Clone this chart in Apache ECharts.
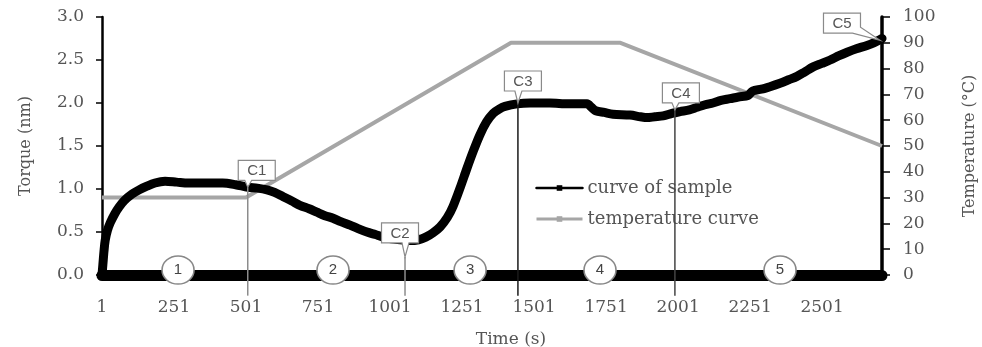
<!DOCTYPE html>
<html><head><meta charset="utf-8">
<script src="https://cdn.jsdelivr.net/npm/echarts@6/dist/echarts.min.js"></script>
<style>html,body{margin:0;padding:0;background:#fff;overflow:hidden;width:100%;height:100%}#c{width:100vw;height:100vh}</style>
</head><body><div id="c"></div><script>
// ---- data ----
const timeSample = [1,4,8,12,20,30,45,60,80,105,130,155,185,220,260,300,350,420,465,508,540,574,600,630,660,688,720,747,775,803,830,862,890,921,950,977,1005,1036,1070,1100,1125,1150,1175,1200,1220,1245,1268,1290,1313,1336,1359,1380,1400,1442,1487,1556,1620,1661,1685,1700,1715,1745,1775,1834,1870,1893,1920,1949,1980,2008,2040,2067,2095,2122,2150,2181,2210,2245,2260,2290,2320,2355,2385,2414,2440,2470,2500,2529,2560,2588,2620,2657,2680,2709];
const torqueSample = [0,0.12,0.28,0.40,0.52,0.61,0.71,0.79,0.87,0.94,0.99,1.03,1.07,1.09,1.08,1.07,1.07,1.07,1.05,1.02,1.01,0.99,0.96,0.91,0.86,0.81,0.77,0.73,0.69,0.66,0.62,0.58,0.54,0.50,0.47,0.44,0.42,0.41,0.40,0.41,0.44,0.49,0.56,0.67,0.80,1.02,1.24,1.44,1.63,1.78,1.88,1.93,1.96,1.99,2.00,2.00,1.99,1.99,1.99,1.95,1.91,1.89,1.87,1.86,1.84,1.83,1.84,1.85,1.88,1.90,1.92,1.95,1.98,2.00,2.03,2.05,2.07,2.09,2.14,2.16,2.19,2.23,2.27,2.31,2.36,2.42,2.46,2.50,2.55,2.59,2.63,2.67,2.70,2.75];
const timeTemp = [1,501,1421,1801,2709];
const tempValues = [30,30,90,90,50];
const calloutLabels = ['C1','C2','C3','C4','C5'];
const calloutTime = [507,1053,1445,1990,2702];
const calloutTorque = [1.02,0.21,2.0,1.92,2.73];
const stageLabels = ['1','2','3','4','5'];
const stageTime = [265,803,1279,1730,2355];
const seriesNames = ['curve of sample','temperature curve'];
const xTickStep = 250;

// ---- styles (not data) ----
const calloutStyle = {
  C1:{dx:9,dy:-17,line:'#8c8c8c'},
  C2:{dx:-5,dy:-24,line:'#8c8c8c'},
  C3:{dx:5,dy:-22,line:'#1a1a1a'},
  C4:{dx:6,dy:-17,line:'#444'},
  C5:{dx:-38,dy:-17,line:null,side:true}
};
const serif = 'DejaVu Serif';
const lineBottom = -0.24;

const sampleData = timeSample.map((t,i)=>[t-1, torqueSample[i]]);
const tempData = timeTemp.map((t,i)=>[t-1, tempValues[i]]);
const calloutData = calloutTime.map((t,i)=>[t-1, calloutTorque[i]]);
const stageData = stageTime.map(t=>[t-1, 0]);

const chart = echarts.init(document.getElementById('c'), null, {renderer:'canvas'});
chart.setOption({
  animation:false,
  backgroundColor:'#fff',
  grid:{left:102,right:100,top:17,bottom:72,containLabel:false,outerBoundsMode:'none'},
  legend:{
    orient:'vertical', left:530, top:174, itemWidth:46, itemHeight:7, itemGap:13,
    textStyle:{fontFamily:serif,fontSize:18,color:'#555'},
    data:[
      {name:seriesNames[0], lineStyle:{width:2.5}},
      {name:seriesNames[1], lineStyle:{width:3}}
    ]
  },
  xAxis:{
    type:'value', min:0, max:timeSample[timeSample.length-1]-1, interval:xTickStep,
    axisLine:{show:true,onZero:false,lineStyle:{color:'#000',width:11}},
    axisTick:{show:false}, splitLine:{show:false},
    axisLabel:{formatter:v=>String(v+1), showMaxLabel:false, margin:24, fontFamily:serif, fontSize:17, color:'#555'},
    name:'Time (s)', nameLocation:'middle', nameGap:56,
    nameTextStyle:{fontFamily:serif,fontSize:17,color:'#555',padding:[0,0,0,38]}
  },
  yAxis:[{
    type:'value', min:0, max:3, interval:0.5, position:'left',
    axisLine:{show:true,lineStyle:{color:'#000',width:2.5}},
    axisTick:{show:true,length:6,lineStyle:{color:'#000',width:1.5}},
    splitLine:{show:false},
    axisLabel:{formatter:v=>v.toFixed(1), margin:18, fontFamily:serif, fontSize:17, color:'#555'},
    name:'Torque (nm)', nameLocation:'middle', nameGap:68,
    nameTextStyle:{fontFamily:serif,fontSize:16,color:'#555'}
  },{
    type:'value', min:0, max:100, interval:10, position:'right',
    axisLine:{show:true,lineStyle:{color:'#000',width:3.5}},
    axisTick:{show:true,length:8,lineStyle:{color:'#000',width:1.5}},
    splitLine:{show:false},
    axisLabel:{margin:21, fontFamily:serif, fontSize:17, color:'#555'},
    name:'Temperature (°C)', nameLocation:'middle', nameGap:80,
    nameTextStyle:{fontFamily:serif,fontSize:16,color:'#555'}
  }],
  series:[
    {
      name:seriesNames[1], type:'line', yAxisIndex:1, data:tempData,
      symbol:'path://M0,0h2v10h-2z', symbolKeepAspect:true, symbolSize:[3,8], showSymbol:false,
      lineStyle:{color:'#a6a6a6',width:4}, itemStyle:{color:'#a6a6a6'}, z:2
    },
    {
      name:seriesNames[0], type:'line', yAxisIndex:0, data:sampleData,
      symbol:'rect', symbolSize:6, showSymbol:false, smooth:0.3,
      lineStyle:{color:'#000',width:9,cap:'round',join:'round'}, itemStyle:{color:'#000'}, z:3
    },
    {
      name:'stages', type:'scatter', yAxisIndex:0, data:stageData, clip:false,
      symbol:'circle', symbolSize:[32,28], symbolOffset:[0,-5],
      itemStyle:{color:'#fff',opacity:1,borderColor:'#888',borderWidth:1.5}, z:5, silent:true,
      label:{show:true,position:'inside',formatter:p=>stageLabels[p.dataIndex],fontFamily:'Liberation Sans',fontSize:15,color:'#444'}
    },
    {
      name:'callouts', type:'custom', yAxisIndex:0, data:calloutData, clip:false, z:6, silent:true,
      renderItem:function(params, api){
        const lab = calloutLabels[params.dataIndex];
        const s = calloutStyle[lab];
        const t = api.value(0), v = api.value(1);
        const a = api.coord([t, v]);
        const w = 37, h = 20;
        const cx = a[0]+s.dx, cy = a[1]+s.dy;
        const x0 = cx-w/2, x1 = cx+w/2, y0 = cy-h/2, y1 = cy+h/2;
        let pts;
        if (!s.side) {
          const px = Math.min(Math.max(a[0], x0+5), x1-5);
          pts = [[x0,y0],[x1,y0],[x1,y1],[px+4,y1],[a[0],a[1]],[px-3,y1],[x0,y1]];
        } else {
          pts = [[x0,y0],[x1,y0],[x1,y1-6],[a[0],a[1]],[x1-8,y1],[x0,y1]];
        }
        const children = [];
        if (s.line) {
          const b = api.coord([t, lineBottom]);
          children.push({type:'line', shape:{x1:a[0],y1:a[1],x2:b[0],y2:b[1]}, style:{stroke:s.line,lineWidth:1.5}});
        }
        children.push({type:'polygon', shape:{points:pts}, style:{fill:'#fff',stroke:'#8a8a8a',lineWidth:1.2}});
        children.push({type:'text', style:{text:lab,x:cx,y:cy+1,align:'center',verticalAlign:'middle',font:'15px "Liberation Sans"',fill:'#555'}});
        return {type:'group', children};
      }
    }
  ]
});
</script></body></html>
